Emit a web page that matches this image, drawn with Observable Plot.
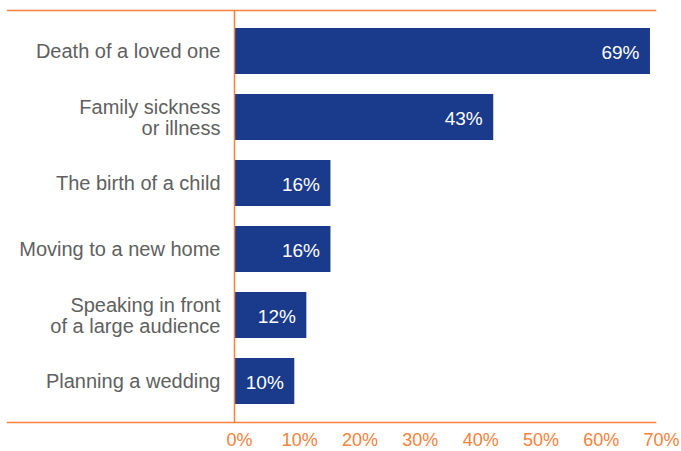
<!DOCTYPE html>
<html>
<head>
<meta charset="utf-8">
<script src="https://cdn.jsdelivr.net/npm/d3@7"></script>
<script src="https://cdn.jsdelivr.net/npm/@observablehq/plot@0.6"></script>
<style>
  html, body { margin: 0; padding: 0; background: #fff; }
  #chart { width: 681px; height: 451px; }
  svg { font-family: "Liberation Sans", Arial, sans-serif; }
</style>
</head>
<body>
<div id="chart"></div>
<script>
const categories = [
  "Death of a loved one",
  "Family sickness\nor illness",
  "The birth of a child",
  "Moving to a new home",
  "Speaking in front\nof a large audience",
  "Planning a wedding"
];
const values = [69, 43, 16, 16, 12, 10];
const valueLabels = ["69%", "43%", "16%", "16%", "12%", "10%"];
const xTicks = [0, 10, 20, 30, 40, 50, 60, 70];

const BLUE = "#1a3b8b";
const ORANGE = "#f5813a";
const GRAY = "#606060";

const data = categories.map((c, i) => ({cat: c, value: values[i], label: valueLabels[i]}));

const chart = Plot.plot({
  width: 681,
  height: 451,
  marginLeft: 234,
  marginRight: 25,
  marginTop: 10,
  marginBottom: 29,
  style: {fontSize: "20px", background: "#fff"},
  x: {domain: [0, 70], ticks: xTicks, tickFormat: d => d + "%", label: null},
  y: {domain: categories, paddingInner: 0.31, paddingOuter: 0.25, label: null},
  marks: [
    Plot.barX(data, {x: "value", y: "cat", fill: BLUE}),
    Plot.text(data, {x: "value", y: "cat", text: "label", textAnchor: "end", dx: -11, dy: 1, fill: "#fff", fontSize: 19}),
    Plot.text(data, {x: 0, y: "cat", text: "cat", textAnchor: "end", dx: -14, dy: 0, fill: GRAY, fontSize: 20, lineHeight: 1.05}),
    Plot.ruleX([0], {stroke: ORANGE, strokeWidth: 1.5}),
    Plot.frame({anchor: "top", stroke: ORANGE, strokeWidth: 1.5, insetLeft: -227, insetRight: 1}),
    Plot.frame({anchor: "bottom", stroke: ORANGE, strokeWidth: 1.5, insetLeft: -227, insetRight: 1}),
    Plot.axisX({ticks: xTicks, tickFormat: d => d + "%", tickSize: 0, tickPadding: 11, dx: 5, fill: ORANGE, fontSize: 18, label: null}),
    Plot.axisY({tickSize: 0, ticks: [], label: null})
  ]
});
document.getElementById("chart").appendChild(chart);
</script>
</body>
</html>
